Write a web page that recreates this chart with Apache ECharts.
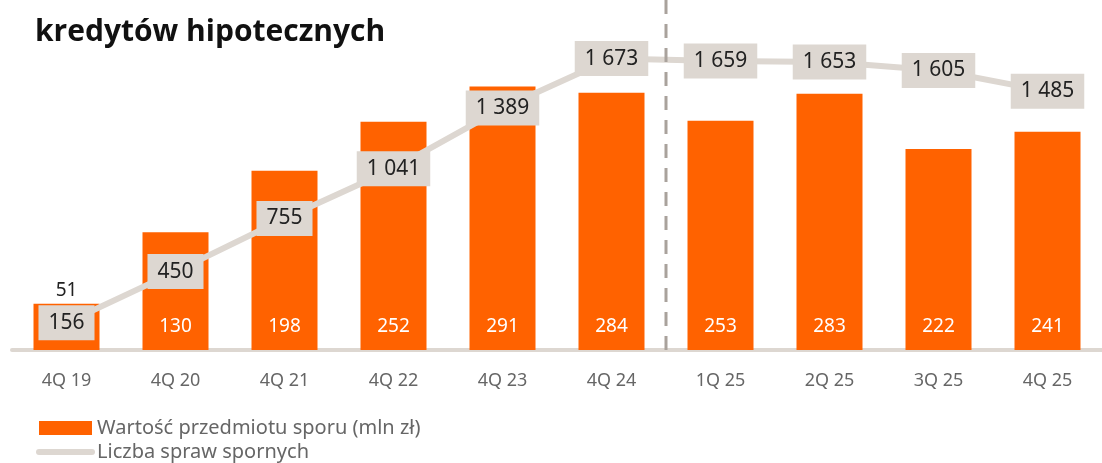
<!DOCTYPE html>
<html>
<head>
<meta charset="utf-8">
<script src="https://cdn.jsdelivr.net/npm/echarts@6/dist/echarts.min.js"></script>
<style>
  html, body { margin: 0; padding: 0; background: #fff; }
  #chart { width: 1102px; height: 463px; }
</style>
</head>
<body>
<div id="chart"></div>
<script>
const categories = ['4Q 19', '4Q 20', '4Q 21', '4Q 22', '4Q 23', '4Q 24', '1Q 25', '2Q 25', '3Q 25', '4Q 25'];
const disputeValue = [51, 130, 198, 252, 291, 284, 253, 283, 222, 241];
const caseCount = [156, 450, 755, 1041, 1389, 1673, 1659, 1653, 1605, 1485];

const ORANGE = '#ff6200';
const BEIGE = '#ddd7d1';
const FONT = '"Noto Sans", sans-serif';

const chart = echarts.init(document.getElementById('chart'));

// small bars get the label above, in dark text
const barData = disputeValue.map(v => v < 60
  ? { value: v, label: { position: 'top', color: '#222', distance: 4 } }
  : v);

const option = {
  animation: false,
  textStyle: { fontFamily: FONT },
  title: {
    text: 'kredytów hipotecznych',
    left: 30,
    top: 12,
    textStyle: { fontSize: 30, fontWeight: 'bold', color: '#111', fontFamily: '"Open Sans", sans-serif' }
  },
  legend: {
    orient: 'vertical',
    left: 36,
    top: 418,
    padding: 0,
    itemWidth: 53,
    itemHeight: 14,
    itemGap: 4,
    textStyle: { fontSize: 20, lineHeight: 19, color: '#666' },
    data: [
      { name: 'Wartość przedmiotu sporu (mln zł)', icon: 'rect' },
      {
        name: 'Liczba spraw spornych',
        itemStyle: { opacity: 0 },
        lineStyle: { width: 6, cap: 'round' }
      }
    ]
  },
  grid: { left: 12, right: -20, top: 33, bottom: 113 },
  xAxis: {
    type: 'category',
    data: categories,
    axisLine: { lineStyle: { color: BEIGE, width: 4 } },
    axisTick: { show: false },
    axisLabel: { color: '#666', fontSize: 18, margin: 22 }
  },
  yAxis: [
    { type: 'value', min: 0, max: 350, show: false },
    { type: 'value', min: 0, max: 1820, show: false }
  ],
  series: [
    {
      name: 'Wartość przedmiotu sporu (mln zł)',
      type: 'bar',
      data: barData,
      barWidth: 66,
      itemStyle: { color: ORANGE },
      label: {
        show: true,
        position: 'insideBottom',
        distance: 14,
        color: '#fff',
        fontSize: 19
      }
    },
    {
      name: 'Liczba spraw spornych',
      type: 'line',
      yAxisIndex: 1,
      data: caseCount,
      symbol: 'circle',
      symbolSize: 1,
      showSymbol: true,
      lineStyle: { color: BEIGE, width: 6 },
      itemStyle: { color: BEIGE },
      z: 5,
      label: {
        show: true,
        position: 'inside',
        formatter: p => String(p.value).replace(/\B(?=(\d{3})+(?!\d))/g, ' '),
        backgroundColor: BEIGE,
        color: '#222',
        fontSize: 21,
        padding: [8, 10, 6, 10]
      }
    }
  ]
};

chart.setOption(option);

// dashed separator between 4Q 24 and 1Q 25
const xa = chart.convertToPixel({ xAxisIndex: 0 }, '4Q 24');
const xb = chart.convertToPixel({ xAxisIndex: 0 }, '1Q 25');
const sepX = Math.round((xa + xb) / 2);
chart.setOption({
  graphic: [{
    type: 'line',
    shape: { x1: sepX, y1: 0, x2: sepX, y2: 360 },
    style: { stroke: '#a9a29c', lineWidth: 3, lineDash: [14, 10] },
    z: 10
  }]
});
</script>
</body>
</html>
